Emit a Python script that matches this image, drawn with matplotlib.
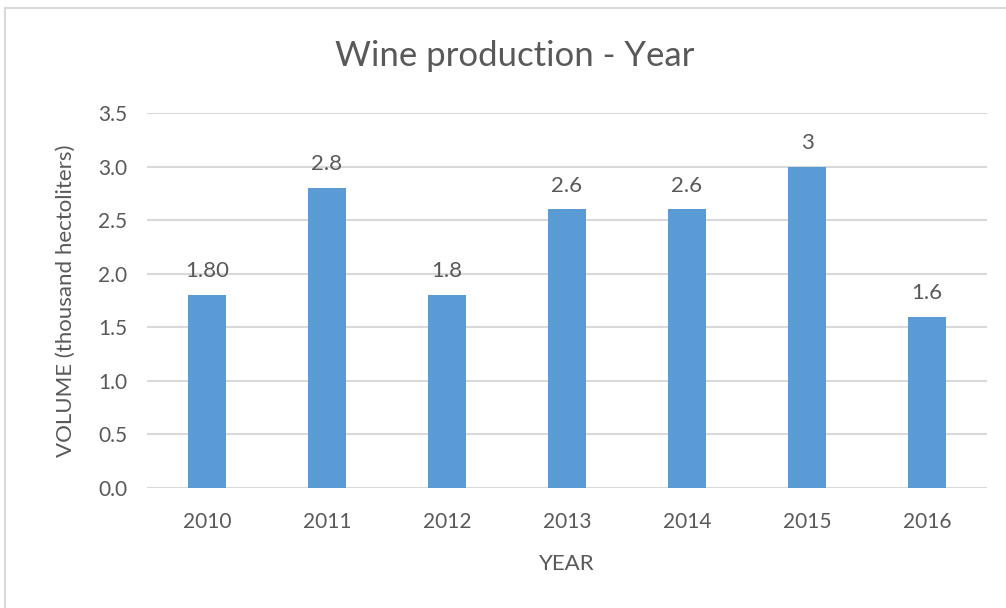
import matplotlib.pyplot as plt
from matplotlib.patches import Rectangle

years = ["2010", "2011", "2012", "2013", "2014", "2015", "2016"]
volume = [1.8, 2.8, 1.8, 2.6, 2.6, 3.0, 1.6]
label_decimals = [2, 1, 1, 1, 1, 0, 1]
y_ticks = [0.0, 0.5, 1.0, 1.5, 2.0, 2.5, 3.0, 3.5]

TEXT = "#595959"
GRID = "#D9D9D9"
BAR = "#5B9BD5"


def main() -> None:
    plt.rcParams["font.family"] = ["Lato", "DejaVu Sans"]
    fig = plt.figure(figsize=(10.06, 6.08), dpi=100)
    W, H = 1006, 608

    # chart frame, clipped on the right and bottom
    fig.patches.append(Rectangle((5 / W, -0.05), 1.1, 1 - 8 / H + 0.05,
                                 transform=fig.transFigure, fill=False,
                                 edgecolor=GRID, linewidth=1.5))

    ax = fig.add_axes([147 / W, 1 - 488 / H, (987 - 147) / W, (488 - 113) / H])
    x = range(len(years))
    bars = ax.bar(x, volume, width=0.32, color=BAR, zorder=3)
    for rect, v, d in zip(bars, volume, label_decimals):
        ax.text(rect.get_x() + rect.get_width() / 2, v + 0.13, f"{v:.{d}f}",
                ha="center", va="bottom", fontsize=16, color=TEXT)

    ax.set_xlim(-0.5, len(years) - 0.5)
    ax.set_ylim(0, 3.5)
    ax.set_yticks(y_ticks)
    ax.set_yticklabels([f"{t:.1f}" for t in y_ticks])
    ax.set_xticks(list(x))
    ax.set_xticklabels(years)
    ax.grid(axis="y", color=GRID, linewidth=1.5, zorder=0)
    for s in ax.spines.values():
        s.set_visible(False)
    ax.tick_params(length=0, labelsize=15, labelcolor=TEXT)
    ax.tick_params(axis="x", pad=17)
    ax.tick_params(axis="y", pad=14)

    ax.set_xlabel("YEAR", fontsize=16, color=TEXT, labelpad=16)
    ax.set_ylabel("VOLUME (thousand hectoliters)", fontsize=16, color=TEXT, labelpad=16)
    fig.text(515 / W, 1 - 56 / H, "Wine production - Year", ha="center", va="center",
             fontsize=25, color=TEXT)

    fig.savefig("out.png", dpi=100)


if __name__ == "__main__":
    main()
